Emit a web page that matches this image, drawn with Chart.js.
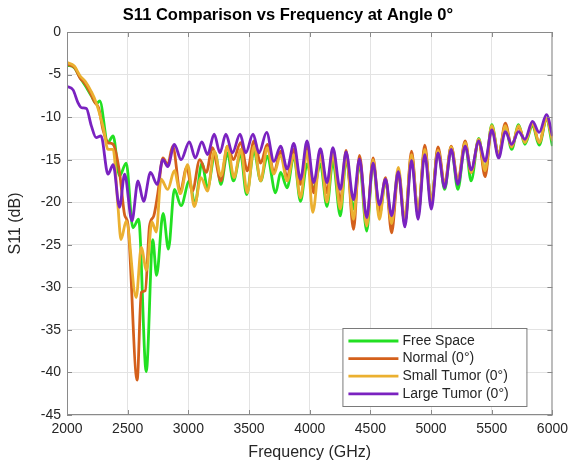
<!DOCTYPE html>
<html>
<head>
<meta charset="utf-8">
<script src="https://cdn.jsdelivr.net/npm/chart.js@4.4.1/dist/chart.umd.min.js"></script>
<style>
    html, body { margin: 0; padding: 0; background: #fff; }
    #wrap { width: 574px; height: 467px; }
</style>
</head>
<body>
<div id="wrap"><canvas id="s11Chart" width="574" height="467"></canvas></div>
<script>
// ? data (frequency in GHz, S11 in dB)
const xTicks = [2000, 2500, 3000, 3500, 4000, 4500, 5000, 5500, 6000];
const yTicks = [0, -5, -10, -15, -20, -25, -30, -35, -40, -45];

const chartTitle = "S11 Comparison vs Frequency at Angle 0°";
const seriesNames = ["Free Space", "Normal (0°)", "Small Tumor (0°)", "Large Tumor (0°)"];

const freeFreq = [2000, 2060, 2110, 2150, 2200, 2243, 2270, 2336, 2380, 2433, 2488, 2543, 2590, 2653, 2707, 2738, 2792, 2836, 2885,
    2940, 3008, 3054, 3112, 3158, 3221, 3268, 3322, 3371, 3431, 3480, 3541, 3596, 3650, 3719, 3760, 3814, 3869, 3924, 3978,
    4033, 4088, 4142, 4191, 4252, 4300, 4361, 4410, 4470, 4522, 4574, 4625, 4675, 4730, 4784, 4839, 4893, 4948, 5002, 5057,
    5112, 5166, 5221, 5281, 5330, 5393, 5445, 5500, 5557, 5612, 5664, 5721, 5773, 5836, 5891, 5951, 6000];
const freeDb = [-3.9, -4.2, -5.4, -6.3, -7.5, -8.4, -8.1, -13.0, -12.2, -16.9, -15.4, -23.0, -22.0, -39.9, -24.4, -28.6, -21.3, -25.5, -18.5,
    -20.4, -17.5, -20.2, -15.4, -18.3, -14.2, -17.9, -14.2, -17.5, -14.4, -19.1, -14.0, -17.5, -14.6, -18.9, -16.5, -18.3, -14.6, -19.9, -15.5,
    -18.5, -15.5, -20.5, -15.2, -21.6, -15.0, -20.8, -15.5, -23.4, -15.2, -21.5, -17.5, -22.5, -16.3, -22.5, -14.6, -21.5, -13.8, -20.0, -13.8,
    -18.5, -13.5, -18.5, -13.0, -17.5, -12.5, -16.5, -10.9, -14.5, -11.0, -13.8, -10.9, -13.2, -11.0, -13.3, -10.3, -13.4];

const normalFreq = [2000, 2064, 2107, 2146, 2187, 2230, 2260, 2297, 2338, 2380, 2433, 2475, 2502, 2578, 2612, 2645, 2680, 2715, 2748, 2790, 2830, 2871,
    2934, 2986, 3033, 3094, 3148, 3197, 3268, 3322, 3371, 3431, 3486, 3541, 3596, 3650, 3705, 3760, 3814, 3869, 3924, 3978,
    4033, 4088, 4142, 4191, 4252, 4300, 4361, 4410, 4470, 4522, 4574, 4625, 4675, 4730, 4784, 4839, 4893, 4948, 5002, 5057,
    5112, 5166, 5221, 5281, 5330, 5393, 5445, 5500, 5557, 5612, 5664, 5721, 5773, 5836, 5891, 5951, 6000];
const normalDb = [-3.8, -4.2, -5.4, -6.0, -7.0, -8.3, -8.9, -11.5, -13.0, -13.2, -16.5, -21.5, -22.6, -40.9, -30.6, -30.4, -22.8, -21.6, -19.0, -14.8, -15.6, -13.4,
    -18.7, -15.9, -18.7, -15.0, -16.5, -13.6, -17.5, -13.4, -15.0, -13.0, -16.3, -12.8, -15.4, -13.2, -16.5, -14.0, -17.1, -13.8, -17.9, -13.5,
    -18.9, -13.9, -18.9, -13.8, -19.9, -13.9, -23.2, -14.5, -22.4, -14.8, -21.0, -17.1, -23.6, -16.5, -22.5, -14.0, -21.5, -13.3, -20.2, -13.5,
    -17.9, -13.4, -17.5, -12.8, -16.5, -12.8, -17.0, -11.2, -14.5, -10.7, -13.5, -11.2, -12.8, -10.8, -13.0, -10.2, -12.4];

const smallFreq = [2000, 2060, 2110, 2150, 2200, 2240, 2300, 2338, 2380, 2420, 2445, 2488, 2570, 2612, 2655, 2700, 2735, 2775, 2830, 2885,
    2934, 2994, 3049, 3104, 3158, 3213, 3268, 3322, 3377, 3431, 3486, 3541, 3596, 3650, 3705, 3760, 3814, 3869, 3924, 3978,
    4025, 4088, 4142, 4191, 4252, 4300, 4361, 4410, 4470, 4522, 4574, 4625, 4675, 4730, 4784, 4839, 4893, 4948, 5002, 5057,
    5112, 5166, 5221, 5281, 5330, 5393, 5445, 5500, 5557, 5612, 5664, 5721, 5773, 5836, 5891, 5951, 6000];
const smallDb = [-3.6, -4.0, -5.2, -5.8, -7.0, -8.3, -11.3, -13.8, -13.8, -20.5, -24.4, -22.2, -31.2, -25.3, -28.0, -22.3, -23.5, -17.3, -18.5, -16.3,
    -19.0, -15.6, -20.5, -17.1, -18.7, -14.0, -16.9, -13.4, -17.1, -13.8, -18.9, -13.4, -17.5, -13.6, -16.7, -14.5, -17.5, -14.4, -19.5, -14.0,
    -21.2, -14.5, -20.0, -14.3, -20.8, -14.5, -22.0, -15.0, -22.8, -15.0, -22.0, -17.3, -22.5, -15.9, -22.0, -14.4, -21.3, -13.8, -20.0, -13.9,
    -18.0, -13.5, -17.6, -13.0, -16.5, -12.6, -16.3, -11.0, -14.5, -11.0, -13.5, -11.0, -13.0, -10.8, -13.0, -10.2, -12.8];

const largeFreq = [2000, 2050, 2090, 2120, 2160, 2200, 2240, 2280, 2338, 2380, 2433, 2475, 2535, 2585, 2631, 2688, 2743, 2790, 2830, 2885,
    2940, 3008, 3057, 3111, 3158, 3213, 3260, 3309, 3363, 3426, 3473, 3533, 3582, 3645, 3705, 3760, 3814, 3869, 3924, 3978,
    4033, 4088, 4142, 4191, 4252, 4300, 4361, 4410, 4470, 4522, 4574, 4625, 4675, 4730, 4784, 4839, 4893, 4948, 5002, 5057,
    5112, 5166, 5221, 5281, 5330, 5393, 5445, 5500, 5557, 5612, 5664, 5721, 5773, 5836, 5891, 5951, 6000];
const largeDb = [-6.4, -6.8, -8.3, -8.9, -9.0, -11.0, -12.4, -12.2, -16.7, -15.6, -20.6, -16.7, -22.2, -17.5, -19.9, -16.5, -17.9, -15.0, -15.8, -13.2,
    -15.0, -12.9, -14.8, -12.9, -14.4, -12.0, -14.2, -12.0, -14.2, -12.0, -14.2, -12.0, -14.2, -11.8, -15.2, -13.4, -16.1, -13.1, -17.3, -12.8,
    -17.7, -13.7, -17.7, -13.6, -18.5, -14.1, -19.7, -14.9, -21.8, -15.4, -20.3, -17.3, -21.6, -16.4, -22.9, -15.1, -22.0, -14.4, -20.8, -14.2,
    -18.3, -13.8, -17.9, -13.4, -16.2, -12.8, -15.2, -11.5, -14.8, -11.7, -13.2, -11.7, -12.6, -10.5, -11.8, -9.7, -12.2];

function toPoints(xs, ys) {
    return xs.map((x, i) => ({ x: x, y: ys[i] }));
}

const lineColors = ["#22e022", "#d4601c", "#ebb030", "#7a22c0"];
const pointSets = [
    toPoints(freeFreq, freeDb),
    toPoints(normalFreq, normalDb),
    toPoints(smallFreq, smallDb),
    toPoints(largeFreq, largeDb),
];

const fontFamily = "'Liberation Sans', Arial, sans-serif";
const tickColor = "#262626";
const boxColor = "#8a8a8a";

// box + inward ticks like matlab, then title and legend
const boxPlugin = {
    id: "boxPlugin",
    afterDatasetsDraw(chart) {
        const { ctx, chartArea: a, scales } = chart;
        ctx.save();
        ctx.strokeStyle = boxColor;
        ctx.lineWidth = 1;
        ctx.strokeRect(a.left + 0.5, a.top + 0.5, a.right - a.left - 1, a.bottom - a.top - 1);
        ctx.beginPath();
        xTicks.forEach((v) => {
            const px = Math.round(scales.x.getPixelForValue(v)) + 0.5;
            ctx.moveTo(px, a.bottom); ctx.lineTo(px, a.bottom - 5);
            ctx.moveTo(px, a.top); ctx.lineTo(px, a.top + 5);
        });
        yTicks.forEach((v) => {
            const py = Math.round(scales.y.getPixelForValue(v)) + 0.5;
            ctx.moveTo(a.left, py); ctx.lineTo(a.left + 5, py);
            ctx.moveTo(a.right, py); ctx.lineTo(a.right - 5, py);
        });
        ctx.stroke();
        ctx.restore();
    },
    afterDraw(chart) {
        const { ctx, chartArea: a } = chart;
        ctx.save();
        // title
        ctx.fillStyle = "#000";
        ctx.font = "bold 16.5px " + fontFamily;
        ctx.textAlign = "center";
        ctx.textBaseline = "middle";
        ctx.fillText(chartTitle, 288, 15);

        // legend box, bottom right inside the axes
        const w = 184, h = 78;
        const x0 = a.right - 26 - w, y0 = a.bottom - 9 - h;
        ctx.fillStyle = "#fff";
        ctx.fillRect(x0, y0, w, h);
        ctx.strokeStyle = "#7a7a7a";
        ctx.lineWidth = 1;
        ctx.strokeRect(x0 + 0.5, y0 + 0.5, w, h);
        ctx.font = "14px " + fontFamily;
        ctx.textAlign = "left";
        chart.data.datasets.forEach((ds, i) => {
            const yy = y0 + 13 + i * 17.6;
            ctx.strokeStyle = ds.borderColor;
            ctx.lineWidth = 2.8;
            ctx.beginPath();
            ctx.moveTo(x0 + 6, yy);
            ctx.lineTo(x0 + 56, yy);
            ctx.stroke();
            ctx.fillStyle = tickColor;
            ctx.fillText(ds.label, x0 + 60, yy);
        });
        ctx.restore();
    },
};

let s11Elem = document.getElementById("s11Chart");
let s11Chart = new Chart(s11Elem, {
    type: "line",
    data: {
        datasets: seriesNames.map((name, i) => ({
            label: name,
            data: pointSets[i],
            borderColor: lineColors[i],
            backgroundColor: lineColors[i],
            borderWidth: 2.8,
            pointRadius: 0,
            fill: false,
            cubicInterpolationMode: "monotone",
            order: 4 - i,
        })),
    },
    options: {
        responsive: false,
        animation: false,
        devicePixelRatio: 1,
        layout: {
            padding: { left: 0, right: 18, top: 32, bottom: 0 },
        },
        scales: {
            x: {
                type: "linear",
                min: 2000,
                max: 6000,
                afterBuildTicks: (scale) => {
                    scale.ticks = xTicks.map((v) => ({ value: v }));
                },
                afterFit: (scale) => {
                    scale.height = 52;
                },
                ticks: {
                    color: tickColor,
                    font: { family: fontFamily, size: 14 },
                    padding: 6,
                    maxRotation: 0,
                    autoSkip: false,
                    callback: (v) => String(v),
                },
                grid: {
                    color: "#e3e3e3",
                    drawTicks: false,
                },
                border: { display: false },
                title: {
                    display: true,
                    text: "Frequency (GHz)",
                    color: tickColor,
                    font: { family: fontFamily, size: 16 },
                    padding: { top: 0, bottom: 5 },
                },
            },
            y: {
                type: "linear",
                min: -45,
                max: 0,
                afterBuildTicks: (scale) => {
                    scale.ticks = yTicks.slice().reverse().map((v) => ({ value: v }));
                },
                afterFit: (scale) => {
                    scale.width = 67;
                },
                ticks: {
                    color: tickColor,
                    font: { family: fontFamily, size: 14 },
                    padding: 6,
                    callback: (v) => String(v),
                },
                grid: {
                    color: "#e3e3e3",
                    drawTicks: false,
                },
                border: { display: false },
                title: {
                    display: true,
                    text: "S11 (dB)",
                    color: tickColor,
                    font: { family: fontFamily, size: 16 },
                    padding: { top: 6, bottom: 0 },
                },
            },
        },
        plugins: {
            legend: { display: false },
            tooltip: { enabled: false },
            title: { display: false },
        },
    },
    plugins: [boxPlugin],
});
</script>
</body>
</html>
